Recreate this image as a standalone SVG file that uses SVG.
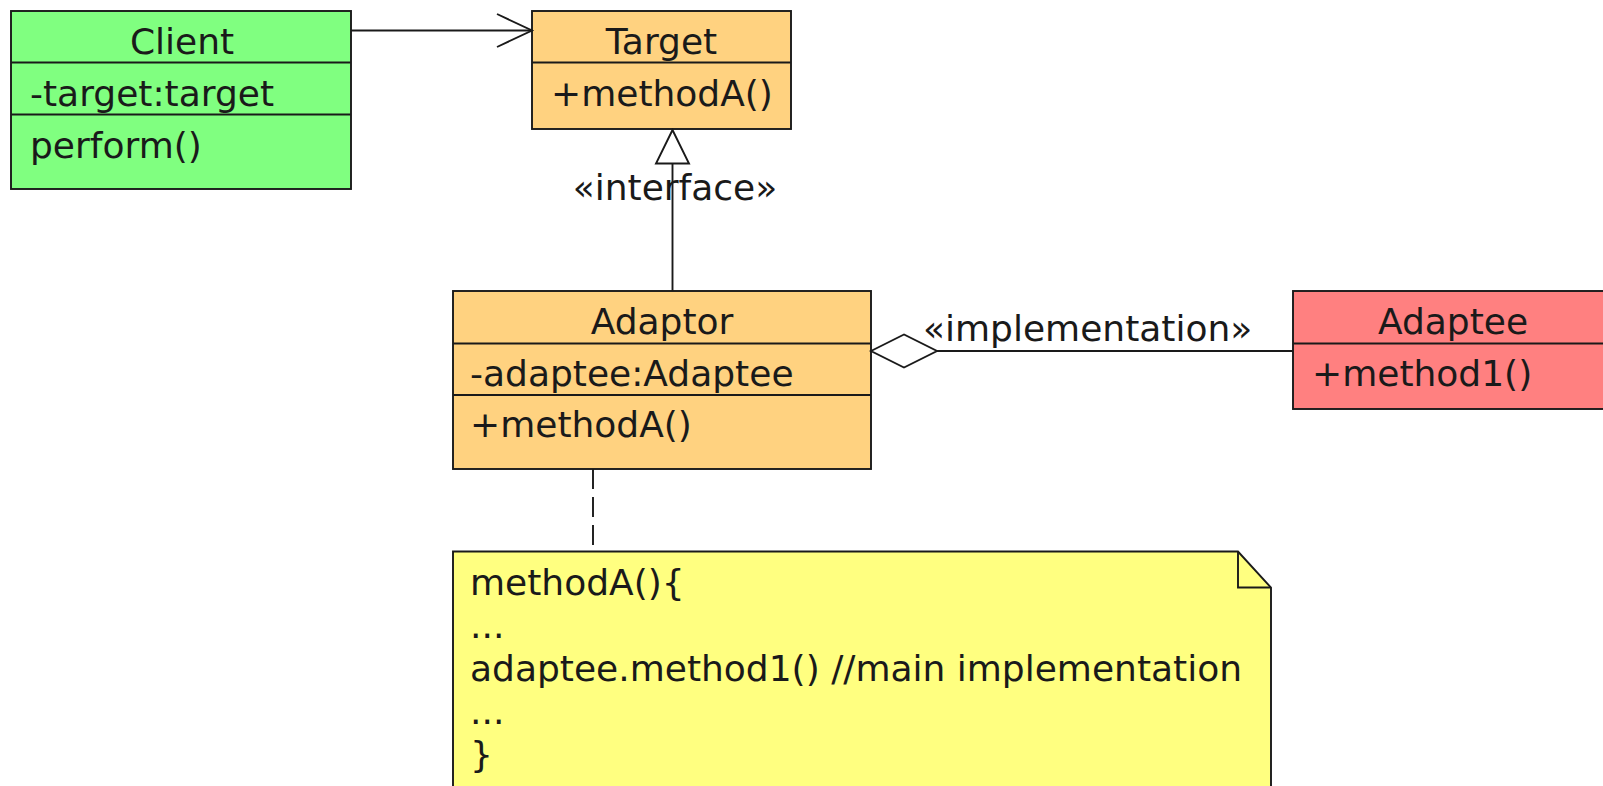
<svg xmlns="http://www.w3.org/2000/svg" width="1603" height="786" viewBox="0 0 1603 786">
  <style>
    .box { stroke: #1a1a1a; stroke-width: 1.9; }
    .div { stroke: #1a1a1a; stroke-width: 1.9; fill: none; }
    .line { stroke: #1a1a1a; stroke-width: 1.9; fill: none; }
    text { font-family: "DejaVu Sans", "Liberation Sans", sans-serif; font-size: 36px; fill: #1a1a1a; }
    .c { text-anchor: middle; }
    .client { fill: #80ff80; }
    .orange { fill: #ffd280; }
    .red { fill: #ff8080; }
    .note { fill: #ffff80; }
  </style>

  <!-- Client class -->
  <g id="client">
    <rect class="box client" x="11" y="11" width="340" height="178"/>
    <line class="div" x1="11" y1="62.5" x2="351" y2="62.5"/>
    <line class="div" x1="11" y1="114.5" x2="351" y2="114.5"/>
    <text class="c" x="182" y="54">Client</text>
    <text x="30" y="106">-target:target</text>
    <text x="30" y="158">perform()</text>
  </g>

  <!-- Target class -->
  <g id="target">
    <rect class="box orange" x="532" y="11" width="259" height="118"/>
    <line class="div" x1="532" y1="62.5" x2="791" y2="62.5"/>
    <text class="c" x="661.5" y="54">Target</text>
    <text x="551" y="106">+methodA()</text>
  </g>

  <!-- Adaptor class -->
  <g id="adaptor">
    <rect class="box orange" x="453" y="291" width="418" height="178"/>
    <line class="div" x1="453" y1="343.5" x2="871" y2="343.5"/>
    <line class="div" x1="453" y1="395" x2="871" y2="395"/>
    <text class="c" x="662" y="334">Adaptor</text>
    <text x="470" y="386">-adaptee:Adaptee</text>
    <text x="470" y="437">+methodA()</text>
  </g>

  <!-- Adaptee class -->
  <g id="adaptee">
    <rect class="box red" x="1293" y="291" width="330" height="118"/>
    <line class="div" x1="1293" y1="343.5" x2="1623" y2="343.5"/>
    <text class="c" x="1453" y="334">Adaptee</text>
    <text x="1312" y="386">+method1()</text>
  </g>

  <!-- Note attached to Adaptor -->
  <g id="note">
    <path class="box note" d="M453,551.5 H1238 L1271,587.5 V800 H453 Z"/>
    <path class="div" d="M1238,551.5 V587.5 H1271"/>
    <text x="470" y="595">methodA(){</text>
    <text x="470" y="638">...</text>
    <text x="470" y="681">adaptee.method1() //main implementation</text>
    <text x="470" y="724">...</text>
    <text x="470" y="767">}</text>
  </g>

  <!-- Connectors -->
  <g id="connectors">
    <!-- Client association to Target -->
    <line class="line" x1="351" y1="30.5" x2="532" y2="30.5"/>
    <polyline class="line" points="497,14 532,30.5 497,47"/>

    <!-- Adaptor realizes Target -->
    <line class="line" x1="672.5" y1="291" x2="672.5" y2="163.5"/>
    <polygon class="line" style="fill:#ffffff" points="672.5,130 656,163.5 689,163.5"/>
    <text class="c" x="675" y="200">«interface»</text>

    <!-- Adaptor aggregates Adaptee -->
    <polygon class="line" style="fill:#ffffff" points="871,351 904,334.5 937,351 904,367.5"/>
    <line class="line" x1="937" y1="351" x2="1293" y2="351"/>
    <text x="923" y="341">«implementation»</text>

    <!-- Note anchor -->
    <line class="line" x1="593" y1="469" x2="593" y2="551.5" stroke-dasharray="20 8"/>
  </g>
</svg>
